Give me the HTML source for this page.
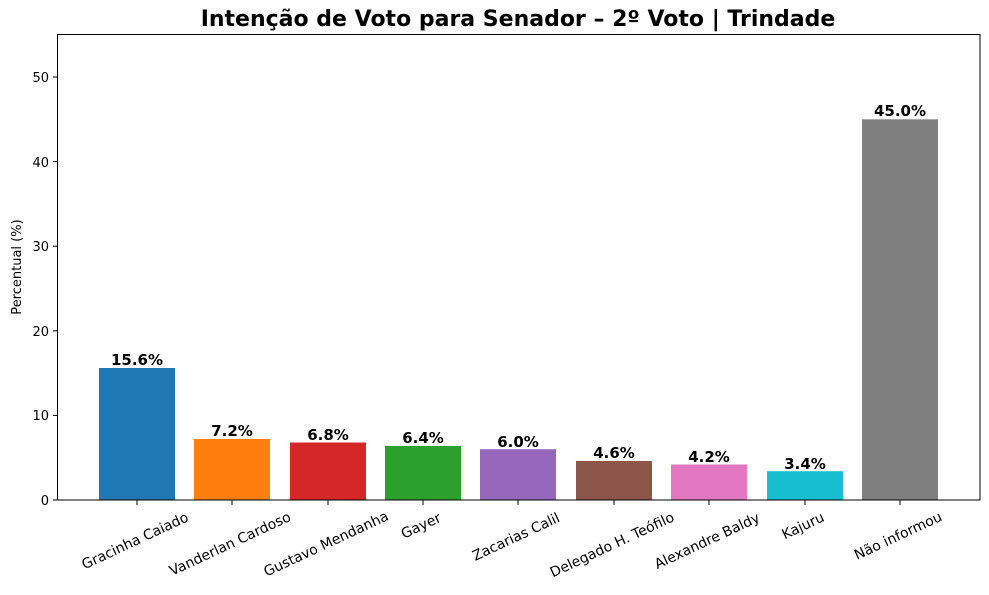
<!DOCTYPE html>
<html><head><meta charset="utf-8"><style>
body{margin:0;background:#fff}
svg text{font-family:"DejaVu Sans","Liberation Sans",sans-serif}
</style></head><body>
<svg width="989" height="590" xmlns="http://www.w3.org/2000/svg">
<rect width="989" height="590" fill="#fff"/>
<text x="518" y="26" text-anchor="middle" font-size="22" font-weight="bold">Intenção de Voto para Senador – 2º Voto | Trindade</text>
<g>
<rect x="99" y="368" width="76" height="132" fill="#1f77b4"/>
<rect x="194" y="439" width="76" height="61" fill="#ff7f0e"/>
<rect x="290" y="442.5" width="76" height="57.5" fill="#d62728"/>
<rect x="385" y="446" width="76" height="54" fill="#2ca02c"/>
<rect x="480" y="449.2" width="76" height="50.8" fill="#9467bd"/>
<rect x="576" y="461" width="76" height="39" fill="#8c564b"/>
<rect x="671" y="464.5" width="76" height="35.5" fill="#e377c2"/>
<rect x="767" y="471.2" width="76" height="28.8" fill="#17becf"/>
<rect x="862" y="119.3" width="76" height="380.7" fill="#7f7f7f"/>
</g>
<g font-size="15" font-weight="bold" text-anchor="middle">
<text x="137" y="365">15.6%</text>
<text x="232" y="436">7.2%</text>
<text x="328" y="440">6.8%</text>
<text x="423" y="443">6.4%</text>
<text x="518" y="447">6.0%</text>
<text x="614" y="458">4.6%</text>
<text x="709" y="462">4.2%</text>
<text x="805" y="469">3.4%</text>
<text x="900" y="116">45.0%</text>
</g>
<rect x="57.5" y="34.5" width="922.5" height="465.5" fill="none" stroke="#000" stroke-width="1"/>
<g stroke="#000" stroke-width="1">
<line x1="53" y1="500" x2="57.5" y2="500"/>
<line x1="53" y1="415.4" x2="57.5" y2="415.4"/>
<line x1="53" y1="330.8" x2="57.5" y2="330.8"/>
<line x1="53" y1="246.2" x2="57.5" y2="246.2"/>
<line x1="53" y1="161.6" x2="57.5" y2="161.6"/>
<line x1="53" y1="77" x2="57.5" y2="77"/>
<line x1="137" y1="500" x2="137" y2="505"/>
<line x1="232" y1="500" x2="232" y2="505"/>
<line x1="328" y1="500" x2="328" y2="505"/>
<line x1="423" y1="500" x2="423" y2="505"/>
<line x1="518" y1="500" x2="518" y2="505"/>
<line x1="614" y1="500" x2="614" y2="505"/>
<line x1="709" y1="500" x2="709" y2="505"/>
<line x1="805" y1="500" x2="805" y2="505"/>
<line x1="900" y1="500" x2="900" y2="505"/>
</g>
<g font-size="13" text-anchor="end">
<text x="49" y="505">0</text>
<text x="49" y="420">10</text>
<text x="49" y="336">20</text>
<text x="49" y="251">30</text>
<text x="49" y="167">40</text>
<text x="49" y="82">50</text>
</g>
<text transform="translate(21,267) rotate(-90)" font-size="13" text-anchor="middle">Percentual (%)</text>
<g font-size="14" text-anchor="middle">
<text transform="translate(137,545) rotate(-25)">Gracinha Caiado</text>
<text transform="translate(232,548) rotate(-25)">Vanderlan Cardoso</text>
<text transform="translate(328,548) rotate(-25)">Gustavo Mendanha</text>
<text transform="translate(423,530) rotate(-25)">Gayer</text>
<text transform="translate(518,541) rotate(-25)">Zacarias Calil</text>
<text transform="translate(614,549) rotate(-25)">Delegado H. Teófilo</text>
<text transform="translate(709,545) rotate(-25)">Alexandre Baldy</text>
<text transform="translate(805,530) rotate(-25)">Kajuru</text>
<text transform="translate(900,540) rotate(-25)">Não informou</text>
</g>
</svg>
</body></html>
